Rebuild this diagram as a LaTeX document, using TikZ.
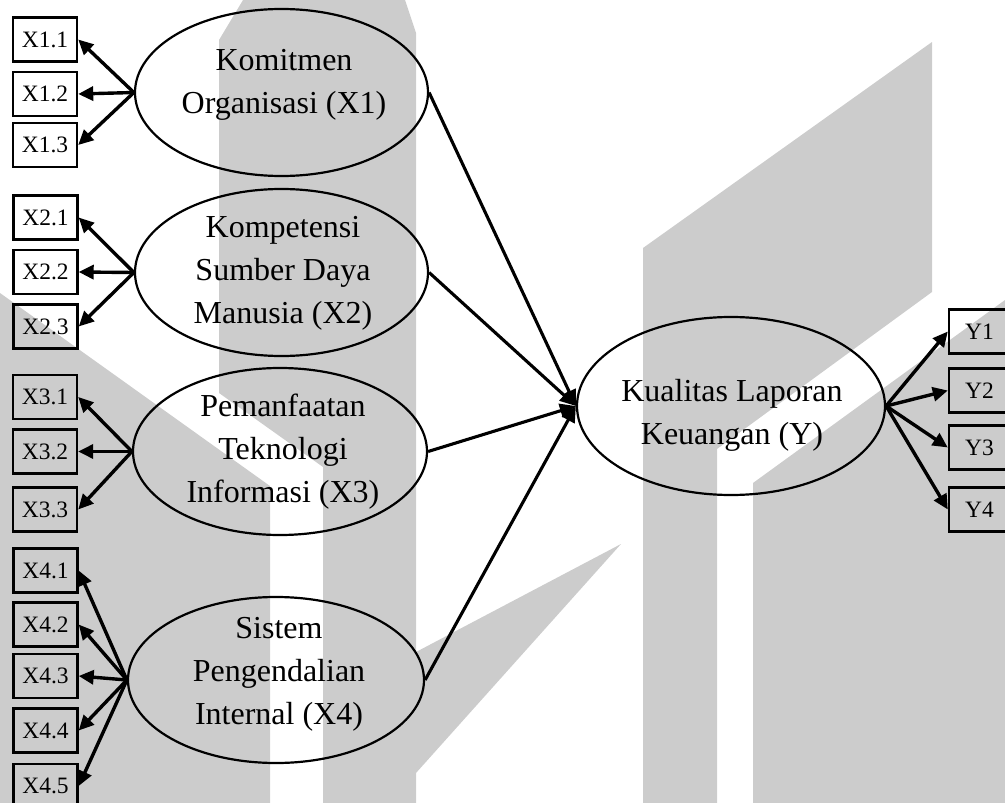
\documentclass[tikz,border=0pt]{standalone}
\usepackage{fontspec}
\setmainfont{Liberation Serif}
\usetikzlibrary{arrows.meta,shapes.geometric}
\definecolor{wm}{RGB}{204,204,204}
\begin{document}
\begin{tikzpicture}[x=1pt,y=-1pt,
  lat/.style={draw, line width=2.2pt, ellipse, inner sep=0pt},
  ind/.style={draw, line width=2.4pt, minimum width=64pt, minimum height=44pt, inner sep=0pt, font=\fontsize{23.5}{27}\selectfont},
  yind/.style={ind, minimum width=61pt},
  lbl/.style={align=center, inner sep=0pt, font=\fontsize{32}{43}\selectfont},
  ld/.style={line width=3.4pt, -{Triangle[length=15pt,width=14pt]}},
  pa/.style={line width=3.1pt, -{Triangle[length=16pt,width=14pt]}},
]
\useasboundingbox (0,0) rectangle (1005,803);
% watermark
\fill[wm] (219,40) -- (243,0) -- (405,0) -- (416,33) -- (416,803) -- (323,803) -- (323,467) -- (219,393) -- cycle;
\fill[wm] (0,293) -- (270,486) -- (270,803) -- (0,803) -- cycle;
\fill[wm] (416,652) -- (621,544) -- (416,773) -- cycle;
\fill[wm] (643,248) -- (932,42) -- (932,292) -- (717,449) -- (717,803) -- (643,803) -- cycle;
\fill[wm] (753,483) -- (1005,300) -- (1005,803) -- (753,803) -- cycle;
% latent variables
\node[lat, minimum width=293pt, minimum height=167pt] (X1) at (281.5,92.5) {};
\node[lat, minimum width=293pt, minimum height=167pt] (X2) at (281.5,272.5) {};
\node[lat, minimum width=294pt, minimum height=167pt] (X3) at (280,451.5) {};
\node[lat, minimum width=296pt, minimum height=166pt] (X4) at (276,680) {};
\node[lat, minimum width=308pt, minimum height=178pt] (Y) at (731,406) {};
\node[lbl] (tX1) at (284,85) {Komitmen\\Organisasi (X1)};
\node[lbl] (tX2) at (283,273.5) {Kompetensi\\Sumber Daya\\Manusia (X2)};
\node[lbl] (tX3) at (283,452) {Pemanfaatan\\Teknologi\\Informasi (X3)};
\node[lbl] (tX4) at (279,674.5) {Sistem\\Pengendalian\\Internal (X4)};
\node[lbl] (tY) at (732,415) {Kualitas Laporan\\Keuangan (Y)};
% indicators
\node[ind] (X11) at (45,39.5) {X1.1};
\node[ind] (X12) at (45,94) {X1.2};
\node[ind] (X13) at (45,145) {X1.3};
\node[ind] (X21) at (45.5,217.5) {X2.1};
\node[ind] (X22) at (45.5,272) {X2.2};
\node[ind] (X23) at (45.5,326.5) {X2.3};
\node[ind] (X31) at (45,397) {X3.1};
\node[ind] (X32) at (45,451.5) {X3.2};
\node[ind] (X33) at (45,509.5) {X3.3};
\node[ind] (X41) at (45.5,570.5) {X4.1};
\node[ind] (X42) at (45.5,624.5) {X4.2};
\node[ind] (X43) at (45.5,676) {X4.3};
\node[ind] (X44) at (45.5,730.5) {X4.4};
\node[ind] (X45) at (45.5,786) {X4.5};
\node[yind] (Y1) at (979.5,331.5) {Y1};
\node[yind] (Y2) at (979.5,390.5) {Y2};
\node[yind] (Y3) at (979.5,447.5) {Y3};
\node[yind] (Y4) at (979.5,509.5) {Y4};
% loadings
\foreach \b in {X11,X12,X13} \draw[ld] (X1.west) -- (\b.east);
\foreach \b in {X21,X22,X23} \draw[ld] (X2.west) -- (\b.east);
\foreach \b in {X31,X32,X33} \draw[ld] (X3.west) -- (\b.east);
\foreach \b in {X41,X42,X43,X44,X45} \draw[ld] (X4.west) -- (\b.east);
\foreach \b in {Y1,Y2,Y3,Y4} \draw[ld] (Y.east) -- (\b.west);
% paths
\foreach \a in {X1,X2,X3,X4} \draw[pa] (\a.east) -- (Y.west);
\end{tikzpicture}
\end{document}
